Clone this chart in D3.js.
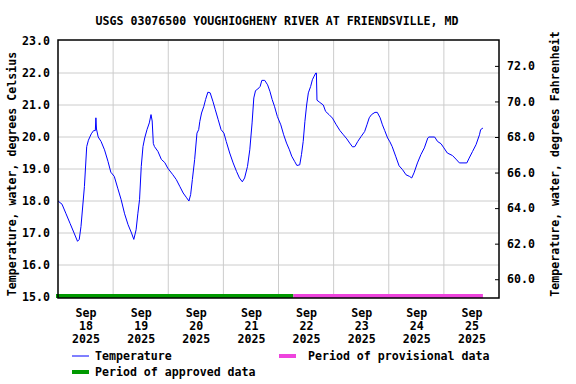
<!DOCTYPE html>
<html>
<head>
<meta charset="utf-8">
<script src="https://cdn.jsdelivr.net/npm/d3@7"></script>
<style>
  body { margin: 0; background: #fff; }
  text { font-family: "DejaVu Sans Mono", monospace; font-weight: bold; font-size: 11.6px; fill: #000; }
</style>
</head>
<body>
<div id="chart"></div>
<script>
//Data
var title = "USGS 03076500 YOUGHIOGHENY RIVER AT FRIENDSVILLE, MD";
var leftLabel = "Temperature, water, degrees Celsius";
var rightLabel = "Temperature, water, degrees Fahrenheit";

var tempTimes = [
  "2025-09-18 00:00","2025-09-18 01:45","2025-09-18 03:30","2025-09-18 05:15","2025-09-18 07:00",
  "2025-09-18 08:30","2025-09-18 09:15","2025-09-18 10:00","2025-09-18 11:30","2025-09-18 12:30",
  "2025-09-18 13:15","2025-09-18 14:30","2025-09-18 15:30","2025-09-18 16:15","2025-09-18 16:30",
  "2025-09-18 16:45","2025-09-18 17:30","2025-09-18 18:45","2025-09-18 20:15","2025-09-18 21:45",
  "2025-09-18 23:00",
  "2025-09-19 00:30","2025-09-19 02:00","2025-09-19 03:30","2025-09-19 05:00","2025-09-19 06:30",
  "2025-09-19 08:00","2025-09-19 09:00","2025-09-19 10:00","2025-09-19 10:45","2025-09-19 11:30",
  "2025-09-19 12:15","2025-09-19 13:00","2025-09-19 13:45","2025-09-19 14:45","2025-09-19 15:45",
  "2025-09-19 16:30","2025-09-19 17:00","2025-09-19 17:30","2025-09-19 18:00","2025-09-19 19:30",
  "2025-09-19 21:00","2025-09-19 22:30","2025-09-19 23:45",
  "2025-09-20 02:00","2025-09-20 03:30","2025-09-20 05:00","2025-09-20 06:30","2025-09-20 08:00",
  "2025-09-20 09:00","2025-09-20 09:45","2025-09-20 10:30","2025-09-20 11:30","2025-09-20 12:30",
  "2025-09-20 13:15","2025-09-20 13:45","2025-09-20 14:30","2025-09-20 15:30","2025-09-20 16:15",
  "2025-09-20 17:15","2025-09-20 18:15","2025-09-20 19:30","2025-09-20 20:30","2025-09-20 21:45",
  "2025-09-20 23:00",
  "2025-09-21 00:15","2025-09-21 01:15","2025-09-21 02:45","2025-09-21 04:15","2025-09-21 05:45",
  "2025-09-21 07:00","2025-09-21 08:15","2025-09-21 09:15","2025-09-21 10:30","2025-09-21 11:30",
  "2025-09-21 12:30","2025-09-21 13:15","2025-09-21 14:00","2025-09-21 15:00","2025-09-21 16:00",
  "2025-09-21 16:45","2025-09-21 18:00","2025-09-21 19:15","2025-09-21 20:15","2025-09-21 21:15",
  "2025-09-21 22:15","2025-09-21 23:30",
  "2025-09-22 01:00","2025-09-22 02:15","2025-09-22 03:30","2025-09-22 04:45","2025-09-22 05:45",
  "2025-09-22 07:00","2025-09-22 08:00","2025-09-22 09:15","2025-09-22 10:00","2025-09-22 10:45",
  "2025-09-22 11:30","2025-09-22 12:15","2025-09-22 13:00","2025-09-22 14:00","2025-09-22 14:45",
  "2025-09-22 15:30","2025-09-22 16:15","2025-09-22 16:30","2025-09-22 16:45","2025-09-22 18:00",
  "2025-09-22 19:30","2025-09-22 20:30","2025-09-22 22:00","2025-09-22 23:30",
  "2025-09-23 01:00","2025-09-23 02:45","2025-09-23 04:15","2025-09-23 05:45","2025-09-23 07:00",
  "2025-09-23 08:15","2025-09-23 09:15","2025-09-23 10:30","2025-09-23 12:00","2025-09-23 13:30",
  "2025-09-23 14:30","2025-09-23 15:30","2025-09-23 16:30","2025-09-23 18:00","2025-09-23 19:00",
  "2025-09-23 20:15","2025-09-23 21:15","2025-09-23 22:15","2025-09-23 23:30",
  "2025-09-24 00:30","2025-09-24 01:30","2025-09-24 03:00","2025-09-24 04:30","2025-09-24 06:00",
  "2025-09-24 07:30","2025-09-24 09:00","2025-09-24 10:00","2025-09-24 11:00","2025-09-24 12:30",
  "2025-09-24 14:00","2025-09-24 15:30","2025-09-24 17:00","2025-09-24 17:30","2025-09-24 20:00",
  "2025-09-24 21:15","2025-09-24 22:45",
  "2025-09-25 00:00","2025-09-25 01:30","2025-09-25 03:45","2025-09-25 05:15","2025-09-25 06:45",
  "2025-09-25 10:00","2025-09-25 11:00","2025-09-25 12:30","2025-09-25 14:00","2025-09-25 15:30",
  "2025-09-25 16:00","2025-09-25 17:00"
];
var tempValues = [
  18.0,17.9,17.6,17.3,17.0,
  16.74,16.8,17.2,18.45,19.7,
  19.9,20.1,20.2,20.2,20.6,
  20.25,20.0,19.86,19.6,19.24,
  18.9,
  18.77,18.4,18.04,17.6,17.26,
  17.0,16.8,17.1,17.6,18.04,
  19.08,19.7,19.97,20.23,20.44,
  20.7,20.5,19.8,19.7,19.55,
  19.3,19.2,19.03,
  18.82,18.67,18.46,18.25,18.1,
  18.0,18.2,18.67,19.3,20.12,
  20.23,20.49,20.75,20.96,21.17,
  21.4,21.38,21.1,20.85,20.54,
  20.23,
  20.12,19.86,19.5,19.19,18.92,
  18.72,18.6,18.72,19.08,19.6,
  20.44,21.22,21.45,21.5,21.58,
  21.77,21.77,21.63,21.43,21.17,
  20.96,20.64,
  20.38,20.07,19.81,19.6,19.4,
  19.24,19.11,19.13,19.45,19.86,
  20.49,21.0,21.38,21.58,21.79,
  21.9,22.0,22.0,21.15,21.08,
  21.0,20.8,20.7,20.59,
  20.4,20.2,20.07,19.94,19.81,
  19.69,19.7,19.86,20.02,20.17,
  20.38,20.6,20.7,20.77,20.77,
  20.6,20.38,20.2,19.97,
  19.85,19.7,19.4,19.1,18.98,
  18.82,18.77,18.72,18.88,19.19,
  19.45,19.66,19.97,20.0,20.0,
  19.86,19.79,
  19.66,19.5,19.42,19.31,19.19,
  19.19,19.34,19.55,19.76,20.07,
  20.23,20.28
];

var periodNames = ["Period of approved data", "Period of provisional data"];
var periodStarts = ["2025-09-18 00:00", "2025-09-22 06:30"];
var periodEnds = ["2025-09-22 06:30", "2025-09-25 17:00"];

var celsiusTicks = [15, 16, 17, 18, 19, 20, 21, 22, 23];
var fahrenheitTicks = [60, 62, 64, 66, 68, 70, 72];
var dayTicks = ["2025-09-18 12:00","2025-09-19 12:00","2025-09-20 12:00","2025-09-21 12:00",
                "2025-09-22 12:00","2025-09-23 12:00","2025-09-24 12:00","2025-09-25 12:00"];
var dayGrid = ["2025-09-19 00:00","2025-09-20 00:00","2025-09-21 00:00","2025-09-22 00:00",
               "2025-09-23 00:00","2025-09-24 00:00","2025-09-25 00:00"];
var xStart = "2025-09-18 00:00", xEnd = "2025-09-26 00:00";

//Dimensions
var width = 576, height = 384;
var plotLeft = 58, plotRight = 499, plotTop = 40, plotBottom = 298;

var parse = d3.timeParse("%Y-%m-%d %H:%M");
var temps = tempTimes.map(function (t, i) { return {date: parse(t), value: tempValues[i]}; });

var svg = d3.select("#chart").append("svg")
            .attr("width", width).attr("height", height);

//Scales
var x = d3.scaleTime().domain([parse(xStart), parse(xEnd)]).range([plotLeft, plotRight]);
var y = d3.scaleLinear().domain([15, 23]).range([297, 41]);
var toF = function (c) { return c * 9 / 5 + 32; };
var yF = d3.scaleLinear().domain([toF(15), toF(23)]).range([297, 41]);

//Grid
svg.append("g").selectAll("line").data(celsiusTicks.slice(1, -1)).enter()
   .append("line")
   .attr("x1", plotLeft).attr("x2", plotRight)
   .attr("y1", function (d) { return y(d); }).attr("y2", function (d) { return y(d); })
   .style("stroke", "#cccccc").style("stroke-width", 1);
svg.append("g").selectAll("line").data(dayGrid.map(parse)).enter()
   .append("line")
   .attr("x1", function (d) { return x(d); }).attr("x2", function (d) { return x(d); })
   .attr("y1", plotTop).attr("y2", plotBottom)
   .style("stroke", "#cccccc").style("stroke-width", 1);

//Period bars
var periodColors = ["#009900", "#ee44dd"];
svg.append("g").selectAll("line").data(periodNames).enter()
   .append("line")
   .attr("x1", function (d, i) { return x(parse(periodStarts[i])) - (i == 0 ? 2 : 0); })
   .attr("x2", function (d, i) { return x(parse(periodEnds[i])); })
   .attr("y1", 296).attr("y2", 296)
   .style("stroke", function (d, i) { return periodColors[i]; })
   .style("stroke-width", 4);

//Temperature line
var line = d3.line()
   .x(function (d) { return x(d.date); })
   .y(function (d) { return y(d.value); });
svg.append("path").datum(temps)
   .attr("d", line)
   .style("fill", "none")
   .style("stroke", "#0000ff")
   .style("stroke-width", 1);

//Frame
svg.append("rect")
   .attr("x", plotLeft).attr("y", plotTop)
   .attr("width", plotRight - plotLeft).attr("height", plotBottom - plotTop)
   .style("fill", "none").style("stroke", "#000").style("stroke-width", 1.5);

//Axes
var yAxis = svg.append("g").attr("transform", "translate(" + plotLeft + ",0)")
   .call(d3.axisLeft(y).tickValues(celsiusTicks).tickSize(0).tickPadding(8).tickFormat(d3.format(".1f")));
var fAxis = svg.append("g").attr("transform", "translate(" + plotRight + ",0)")
   .call(d3.axisRight(yF).tickValues(fahrenheitTicks).tickSize(-4).tickPadding(8).tickFormat(d3.format(".1f")));
var xAxis = svg.append("g").attr("transform", "translate(0," + plotBottom + ")")
   .call(d3.axisBottom(x).tickValues(dayTicks.map(parse)).tickSize(0).tickFormat(""));

svg.selectAll(".domain").remove();
fAxis.selectAll(".tick line").style("stroke", "#000");

var fmts = [d3.timeFormat("%b"), d3.timeFormat("%d"), d3.timeFormat("%Y")];
xAxis.selectAll(".tick text").each(function (d) {
   var t = d3.select(this).attr("y", 0).attr("dy", null);
   fmts.forEach(function (f, i) {
      t.append("tspan").attr("x", 0).attr("y", 19 + i * 13).text(f(d));
   });
});
[xAxis, yAxis, fAxis].forEach(function (a) { a.attr("font-family", null).attr("font-size", null); });

//Titles
svg.append("text").attr("x", 277).attr("y", 25).attr("text-anchor", "middle").text(title);
svg.append("text").attr("transform", "translate(16,174) rotate(-90)")
   .attr("text-anchor", "middle").text(leftLabel);
svg.append("text").attr("transform", "translate(559,164) rotate(-90)")
   .attr("text-anchor", "middle").text(rightLabel);

//Legend
var legend = svg.append("g");
legend.append("line").attr("x1", 72).attr("x2", 89).attr("y1", 356).attr("y2", 356)
   .style("stroke", "#0000ff").style("stroke-width", 1);
legend.append("text").attr("x", 95).attr("y", 360).text("Temperature");
legend.append("line").attr("x1", 279).attr("x2", 296).attr("y1", 356).attr("y2", 356)
   .style("stroke", periodColors[1]).style("stroke-width", 4);
legend.append("text").attr("x", 308).attr("y", 360).text(periodNames[1]);
legend.append("line").attr("x1", 72).attr("x2", 89).attr("y1", 372).attr("y2", 372)
   .style("stroke", periodColors[0]).style("stroke-width", 4);
legend.append("text").attr("x", 95).attr("y", 376).text(periodNames[0]);
</script>
</body>
</html>
